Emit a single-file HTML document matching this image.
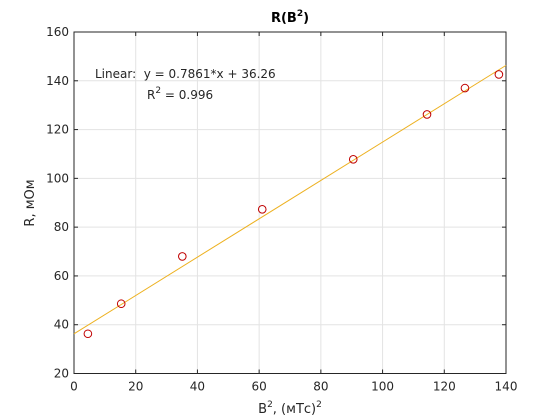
<!DOCTYPE html>
<html><head><meta charset="utf-8"><style>
body{margin:0;background:#fff}
svg{display:block;font-family:"DejaVu Sans","Liberation Sans",sans-serif}
</style></head><body>
<svg id="chart" width="560" height="420">
<rect width="560" height="420" fill="#fff"/>
<g id="grid"></g>
<g id="ticks"></g>
<rect x="74" y="32" width="432" height="341.5" fill="none" stroke="#262626" stroke-width="1"/>
<g id="marks"></g>
<text x="290" y="22" text-anchor="middle" font-size="13" font-weight="bold" fill="#000">R(B<tspan dy="-6" font-size="9">2</tspan><tspan dy="6">)</tspan></text>
<text x="95" y="78" font-size="12" fill="#262626" xml:space="preserve">Linear:  y = 0.7861*x + 36.26</text>
<text x="147" y="99" font-size="12" fill="#262626">R<tspan dy="-6" font-size="9">2</tspan><tspan dy="6"> = 0.996</tspan></text>
<text transform="translate(34,203) rotate(-90)" text-anchor="middle" font-size="13" fill="#262626">R, мОм</text>
<text x="290" y="413" text-anchor="middle" font-size="13" fill="#262626">B<tspan dy="-6" font-size="9">2</tspan><tspan dy="6">, (мТс)</tspan><tspan dy="-6" font-size="9">2</tspan></text>
</svg>
<script>
const xTicks=[0,20,40,60,80,100,120,140];
const yTicks=[20,40,60,80,100,120,140,160];
const xData=[4.5,15.3,35.1,61.0,90.5,114.4,126.7,137.7];
const yData=[36.3,48.6,68.0,87.3,107.8,126.2,137.0,142.6];
const slope=0.7861, intercept=36.26;
const X0=74,X1=506,Y0=373.5,Y1=32;
const sx=v=>X0+(v-0)/(140-0)*(X1-X0);
const sy=v=>Y0-(v-20)/(160-20)*(Y0-Y1);
const NS='http://www.w3.org/2000/svg';
const grid=document.getElementById('grid'),ticks=document.getElementById('ticks'),marks=document.getElementById('marks');
function mk(tag,attrs,parent){const e=document.createElementNS(NS,tag);for(const k in attrs)e.setAttribute(k,attrs[k]);parent.appendChild(e);return e;}
xTicks.forEach(t=>{
  const x=sx(t);
  const g=mk('line',{x1:x,x2:x,y1:Y1,y2:Y0,stroke:'#e3e3e3','stroke-width':1},grid);
  
  
  mk('line',{x1:x,x2:x,y1:Y0,y2:Y0-4,stroke:'#262626'},ticks);
  mk('line',{x1:x,x2:x,y1:Y1,y2:Y1+4,stroke:'#262626'},ticks);
  const l=mk('text',{x:x,y:Y0+17,'text-anchor':'middle','font-size':12,fill:'#262626'},ticks);
  l.textContent=t;
  
  
});
yTicks.forEach(t=>{
  const y=sy(t);
  const g=mk('line',{x1:X0,x2:X1,y1:y,y2:y,stroke:'#e3e3e3','stroke-width':1},grid);
  
  
  mk('line',{x1:X0,x2:X0+4,y1:y,y2:y,stroke:'#262626'},ticks);
  mk('line',{x1:X1,x2:X1-4,y1:y,y2:y,stroke:'#262626'},ticks);
  const l=mk('text',{x:X0-5,y:y+4,'text-anchor':'end','font-size':12,fill:'#262626'},ticks);
  l.textContent=t;
  
  
});
const fit=mk('line',{x1:sx(0),y1:sy(intercept),x2:sx(140),y2:sy(slope*140+intercept),stroke:'#edb120','stroke-width':1},marks);


xData.forEach((v,i)=>{
  const c=mk('circle',{cx:sx(v),cy:sy(yData[i]),r:3.8,fill:'none',stroke:'#c00000','stroke-width':1},marks);
  
  
});
</script>
</body></html>
